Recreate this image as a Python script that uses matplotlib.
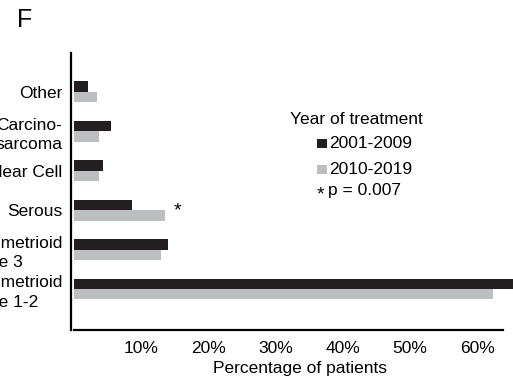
import matplotlib
matplotlib.use("Agg")
import matplotlib.pyplot as plt
from matplotlib.patches import Rectangle

plt.rcParams['font.family'] = ['Liberation Sans', 'DejaVu Sans']

# histology groups, bottom to top
categories = ["Endometrioid\nGrade 1-2", "Endometrioid\nGrade 3", "Serous",
              "Clear Cell", "Carcino-\nsarcoma", "Other"]
early = [66.0, 14.0, 8.7, 4.3, 5.6, 2.1]    # 2001-2009
late = [62.4, 13.0, 13.5, 3.7, 3.8, 3.4]    # 2010-2019
series_labels = ["2001-2009", "2010-2019"]
xticks = [10, 20, 30, 40, 50, 60]
xtick_labels = ["10%", "20%", "30%", "40%", "50%", "60%"]
sig_group = "Serous"
p_text = "p = 0.007"

dark = "#231f20"
light = "#bcbec0"
W, H = 513, 382

fig = plt.figure(figsize=(W / 100, H / 100), dpi=100)


def fx(px):
    return px / W


def fy(py):
    return 1 - py / H


ax = fig.add_axes([fx(71), fy(330), fx(513) - fx(71), fy(53) - fy(330)])

ypos = list(range(len(categories)))
h = 0.265
ax.barh([y + h / 2 for y in ypos], early, height=h, color=dark, edgecolor="none")
ax.barh([y - h / 2 for y in ypos], late, height=h, color=light, edgecolor="none")

ax.set_xlim(-0.4, 65.3)
ax.set_ylim(-1.04, 5.98)
ax.set_yticks(ypos)
ax.set_yticklabels(categories, fontsize=12.5, multialignment="left", linespacing=1.35)
ax.set_xticks(xticks)
ax.set_xticklabels(xtick_labels, fontsize=12.5)
ax.tick_params(length=0)
ax.tick_params(axis="y", pad=6)
ax.tick_params(axis="x", pad=8)

for s in ["top", "right"]:
    ax.spines[s].set_visible(False)
ax.spines["left"].set_linewidth(1.6)
ax.spines["bottom"].set_linewidth(1.6)
ax.spines["bottom"].set_bounds(0.0, 63.8)
fig.text(fx(300), fy(368), "Percentage of patients", fontsize=12.5,
         ha="center", va="center")

# significance marker next to the serous bars
i = categories.index(sig_group)
ax.text(late[i] + 2.0, i - 0.02, "*", fontsize=14, ha="center", va="center")

fig.text(fx(17), fy(20), "F", fontsize=18, va="center", ha="left")

# legend
fig.text(fx(290), fy(119), "Year of treatment", fontsize=12.5, va="center", ha="left")
for k, (lab, col) in enumerate(zip(series_labels, [dark, light])):
    yc = 143 + 26 * k
    fig.add_artist(Rectangle((fx(317), fy(yc + 4.5)), fx(10), fy(0) - fy(9),
                             transform=fig.transFigure, color=col, lw=0))
    fig.text(fx(329), fy(yc), lab, fontsize=12.5, va="center", ha="left")
fig.text(fx(320), fy(195), "*", fontsize=14, va="center", ha="center")
fig.text(fx(328), fy(190), p_text, fontsize=12.5, va="center", ha="left")

fig.savefig("out.png", dpi=100)
